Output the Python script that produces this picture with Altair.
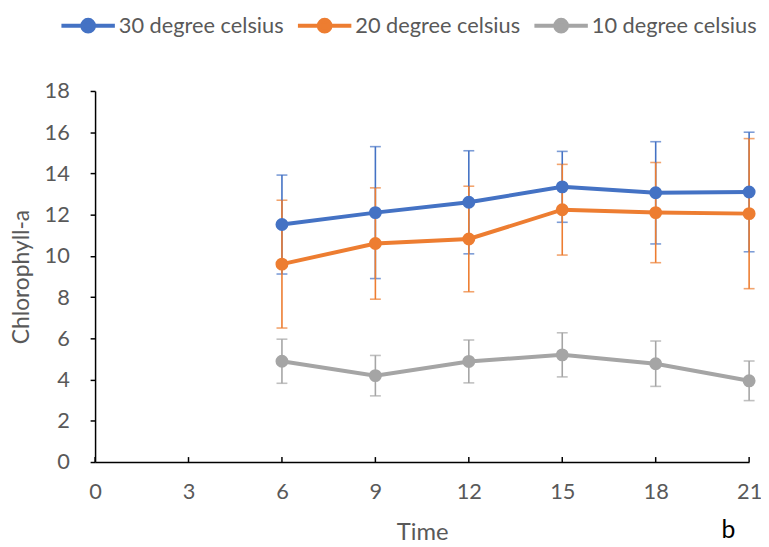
import altair as alt
import pandas as pd

series = ["30 degree celsius", "20 degree celsius", "10 degree celsius"]
colors = ["#4472C4", "#ED7D31", "#A5A5A5"]
time = [6, 9, 12, 15, 18, 21]
mean_30 = [11.52, 12.1, 12.6, 13.35, 13.06, 13.1]
err_30 = [2.4, 3.2, 2.5, 1.72, 2.48, 2.9]
mean_20 = [9.6, 10.6, 10.82, 12.24, 12.1, 12.05]
err_20 = [3.1, 2.7, 2.56, 2.2, 2.43, 3.64]
mean_10 = [4.89, 4.19, 4.88, 5.2, 4.77, 3.94]
err_10 = [1.07, 0.98, 1.04, 1.07, 1.1, 0.96]
x_ticks = [0, 3, 6, 9, 12, 15, 18, 21]
y_ticks = [0, 2, 4, 6, 8, 10, 12, 14, 16, 18]

rows = []
for name, means, errs in zip(series, [mean_30, mean_20, mean_10], [err_30, err_20, err_10]):
    for t, m, e in zip(time, means, errs):
        rows.append({"series": name, "time": t, "mean": m, "lo": m - e, "hi": m + e})
df = pd.DataFrame(rows)
ticks_df = pd.DataFrame({"t": x_ticks})

FONT = "Lato"
GREY = "#595959"

xs = alt.Scale(domain=[0, 21], nice=False, zero=False)
ys = alt.Scale(domain=[0, 18], nice=False)
cs = alt.Scale(domain=series, range=colors)

x_axis = alt.Axis(values=x_ticks, title="Time", grid=False, ticks=False, tickSize=0,
                  labelPadding=20, titlePadding=18, domainColor="black", domainWidth=1.5,
                  labelColor=GREY, titleColor=GREY, labelFontSize=22, titleFontSize=24,
                  labelFont=FONT, titleFont=FONT, titleFontWeight="normal", labelFlush=False)
y_axis = alt.Axis(values=y_ticks, title="Chlorophyll-a", grid=False, tickSize=5, tickColor="black",
                  tickWidth=1.5, labelPadding=21, titlePadding=11, domainColor="black", domainWidth=1.5,
                  labelColor=GREY, titleColor=GREY, labelFontSize=22, titleFontSize=23,
                  labelFont=FONT, titleFont=FONT, titleFontWeight="normal")

symbol_path = "M-1,0L1,0M-0.22,0A0.22,0.22,0,1,0,0.22,0A0.22,0.22,0,1,0,-0.22,0Z"
legend = alt.Legend(title=None, orient="none", direction="horizontal",
                    legendX=-36, legendY=-95, symbolType=symbol_path,
                    symbolSize=2916, symbolStrokeWidth=4, symbolOpacity=1, labelOffset=2,
                    columnPadding=6, labelFont=FONT, labelFontSize=22,
                    labelColor=GREY, labelLimit=400, padding=0)
color = alt.Color("series:N", scale=cs, sort=series, legend=legend)

base = alt.Chart(df)

errbars = base.mark_errorbar(ticks={"size": 11, "thickness": 1.6}, thickness=1.6).encode(
    x=alt.X("time:Q", scale=xs, axis=x_axis),
    y=alt.Y("lo:Q", scale=ys, axis=y_axis),
    y2="hi:Q",
    color=color,
)

xtick_marks = alt.Chart(ticks_df).mark_rule(color="black", strokeWidth=1.5).encode(
    x=alt.X("t:Q", scale=xs),
    y=alt.value(370),
    y2=alt.value(375),
)

lines = base.mark_line(strokeWidth=4).encode(
    x=alt.X("time:Q", scale=xs),
    y=alt.Y("mean:Q", scale=ys),
    color=color,
)

points = base.mark_circle(size=170, opacity=1).encode(
    x=alt.X("time:Q", scale=xs),
    y=alt.Y("mean:Q", scale=ys),
    color=color,
)

chart = alt.layer(errbars, xtick_marks, lines, points).properties(
    width=661, height=375,
    autosize=alt.AutoSizeParams(type="none"),
    padding={"left": 88, "top": 81, "right": 12, "bottom": 82},
    title=alt.TitleParams("b", orient="bottom", anchor="end", frame="group", dx=-14, offset=-26,
                          font=FONT, fontSize=25, color="black", fontWeight="normal"),
).configure_view(stroke=None)

chart.save("out.html", embed_options={"renderer": "svg", "actions": False})
